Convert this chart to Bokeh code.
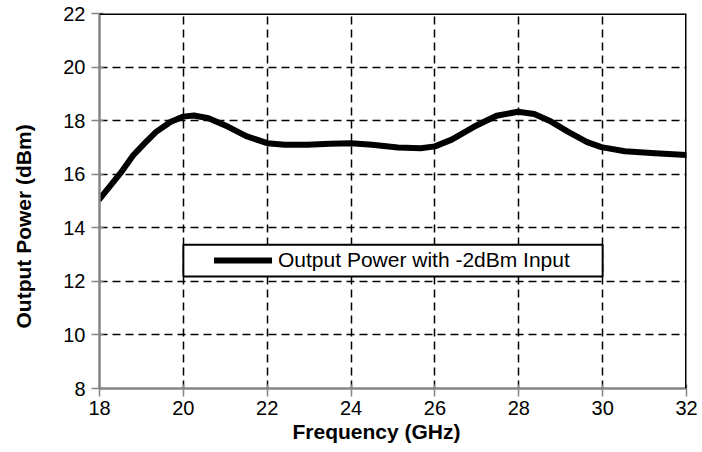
from bokeh.plotting import figure
from bokeh.models import (Span, Title, BoxAnnotation, Legend, LegendItem, LinearAxis,
                          SingleIntervalTicker, FixedTicker)
from bokeh.embed import file_html
from bokeh.resources import INLINE

# ---- data ----
freq_ghz = [18.0, 18.5, 18.8, 19.08, 19.35, 19.7, 20.0, 20.25, 20.6, 21.07, 21.5,
            22.0, 22.42, 22.96, 23.5, 24.0, 24.5, 25.12, 25.66, 26.0, 26.4, 26.93,
            27.47, 27.98, 28.37, 28.73, 29.18, 29.63, 29.97, 30.53, 31.25, 32.0]
power_dbm = [15.07, 16.04, 16.7, 17.16, 17.58, 17.96, 18.15, 18.19, 18.09, 17.77, 17.42,
             17.16, 17.1, 17.1, 17.14, 17.16, 17.1, 17.0, 16.97, 17.04, 17.29, 17.77,
             18.18, 18.33, 18.25, 18.0, 17.58, 17.2, 17.01, 16.86, 16.78, 16.72]
series_label = "Output Power with -2dBm Input"
x_title = "Frequency (GHz)"
y_title = "Output Power (dBm)"
x_range = (18, 32)
y_range = (8, 22)
tick_step = 2

FONT = "Liberation Sans"

p = figure(output_backend="svg", toolbar_location=None,
           frame_width=587, frame_height=375,
           min_border_left=99, min_border_top=13, min_border_right=12, min_border_bottom=62,
           x_range=x_range, y_range=y_range)
p.outline_line_color = None
p.background_fill_color = "white"
p.border_fill_color = "white"

# axes
for ax in (p.xaxis[0], p.yaxis[0]):
    ax.ticker = SingleIntervalTicker(interval=tick_step)
    ax.minor_tick_line_color = None
    ax.axis_line_color = "#858585"
    ax.axis_line_width = 2.5
    ax.major_tick_line_color = "#858585"
    ax.major_tick_line_width = 1.5
    ax.major_tick_in = 4
    ax.major_tick_out = 8
    ax.major_label_text_font = FONT
    ax.major_label_text_font_size = "20px"
    ax.major_label_text_color = "black"
p.yaxis[0].major_label_standoff = 6
p.xaxis[0].major_label_standoff = 4

# invisible spacer between the y axis and its title (one unlabeled, undrawn tick)
p.add_layout(LinearAxis(ticker=FixedTicker(ticks=[15]), major_label_overrides={15: ""},
                        axis_line_color=None,
                        major_tick_line_color=None, minor_tick_line_color=None,
                        major_tick_in=0, major_tick_out=26, minor_tick_out=0,
                        major_label_standoff=0, major_label_text_font_size="1px"), "left")

# grids: dashed black at interior ticks
p.xgrid[0].ticker = FixedTicker(ticks=list(range(x_range[0] + tick_step, x_range[1], tick_step)))
p.ygrid[0].ticker = FixedTicker(ticks=list(range(y_range[0] + tick_step, y_range[1], tick_step)))
for g in (p.xgrid[0], p.ygrid[0]):
    g.grid_line_color = "black"
    g.grid_line_width = 1.5
    g.grid_line_dash = "8 5"

# top and right border lines
p.add_layout(Span(location=y_range[1], dimension="width", line_color="black", line_width=3))
p.add_layout(Span(location=x_range[1], dimension="height", line_color="black", line_width=3))

# the curve
r = p.line(freq_ghz, power_dbm, line_color="black", line_width=6,
           line_join="round", line_cap="round")

# legend box
p.add_layout(BoxAnnotation(left=20, right=30, bottom=12.18, top=13.37,
                           fill_color="white", fill_alpha=1.0,
                           line_color="black", line_alpha=1.0, line_width=2))
legend = Legend(items=[LegendItem(label=series_label, renderers=[r])],
                location=(115, 116), padding=0, margin=0, spacing=0,
                glyph_width=58, glyph_height=24, label_height=24, label_standoff=6,
                label_text_font=FONT, label_text_font_size="21px",
                label_text_color="black",
                border_line_color=None, background_fill_alpha=0.0)
p.add_layout(legend)

# axis titles
p.add_layout(Title(text=y_title, align="left", offset=60, standoff=0,
                   text_font=FONT, text_font_size="21px", text_font_style="bold",
                   text_color="black"), "left")
p.add_layout(Title(text=x_title, align="left", offset=193, standoff=0,
                   text_font=FONT, text_font_size="21px", text_font_style="bold",
                   text_color="black"), "below")

open("out.html", "w").write(file_html(p, INLINE))
